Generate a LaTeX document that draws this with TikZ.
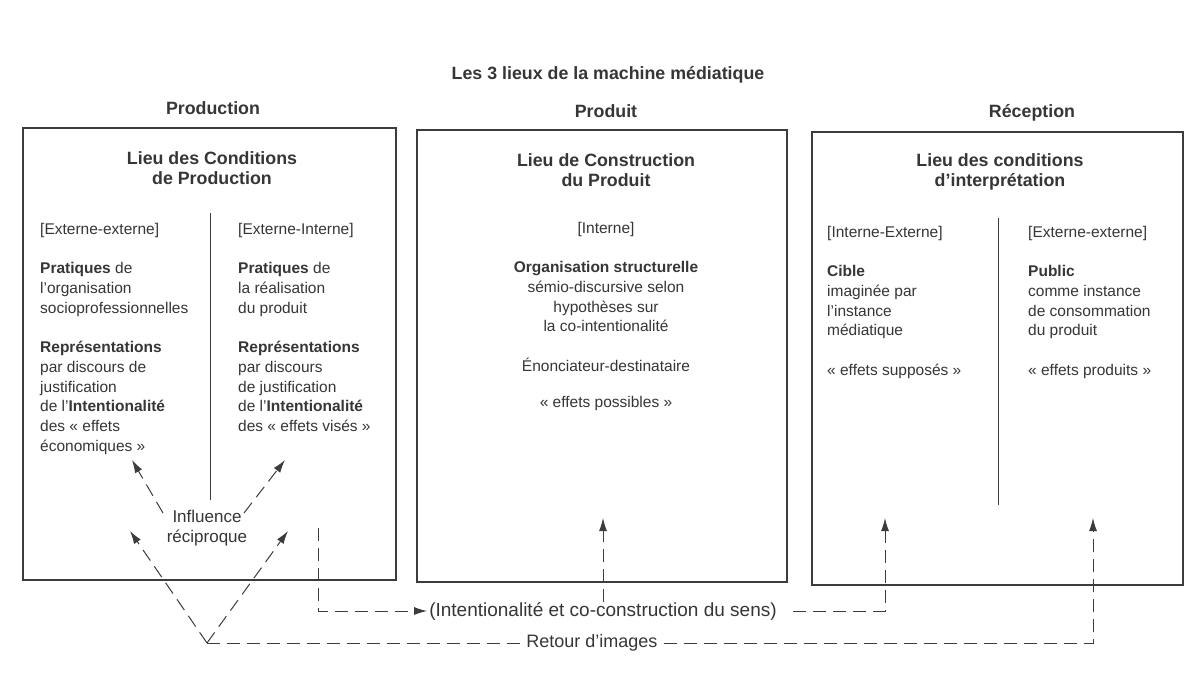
\documentclass[tikz,border=0pt]{standalone}
\usepackage{fontspec}
\setmainfont{Liberation Sans}
\usetikzlibrary{arrows.meta}
\definecolor{ink}{HTML}{363636}
\definecolor{lineink}{HTML}{3C3C3C}
\begin{document}
\begin{tikzpicture}[x=1pt,y=-1pt,
  box/.style={draw=lineink, line width=1.1pt, inner sep=0pt},
  head/.style={font=\fontsize{17.8}{20}\selectfont\bfseries, text=ink, align=center, inner sep=0pt},
  body/.style={font=\fontsize{15.5}{19.7}\selectfont, text=ink, align=left, inner sep=0pt, anchor=north west},
  bodyc/.style={body, align=center, anchor=north},
  lbl/.style={font=\fontsize{18}{20}\selectfont, text=ink, inner sep=0pt},
  dline/.style={draw=lineink, line width=1pt, dash pattern=on 13pt off 7pt},
  arr/.style={dline, -{Latex[length=13pt,width=8pt]}},
  divider/.style={draw=lineink, line width=1pt}]
\useasboundingbox (0,0) rectangle (1192,675);
\fill[white] (0,0) rectangle (1192,675);

% titles
\node[head] (title) at (608,75) {Les 3 lieux de la machine médiatique};
\node[head] (hprod) at (213,108) {Production};
\node[head] (hprd) at (606,111) {Produit};
\node[head] (hrec) at (1032,113) {Réception};

% boxes
\node[box, minimum width=373pt, minimum height=452pt] (B1) at (209.5,354) {};
\node[box, minimum width=370pt, minimum height=452pt] (B2) at (602,356) {};
\node[box, minimum width=371pt, minimum height=453pt] (B3) at (997.5,358.5) {};

% box titles
\node[head] (t1) at (212,168) {Lieu des Conditions\\de Production};
\node[head] (t2) at (606,170) {Lieu de Construction\\du Produit};
\node[head] (t3) at (1000,172) {Lieu des conditions\\d’interprétation};

% dividers
\draw[divider] (210,213) -- (210,500);
\draw[divider] (998,218) -- (998,505);

% left box columns
\node[body] (c1) at (40,223) {[Externe-externe]\\[19.7pt]\textbf{Pratiques} de\\l’organisation\\socioprofessionnelles\\[19.7pt]\textbf{Représentations}\\par discours de\\justification\\de l’\textbf{Intentionalité}\\des « effets\\économiques »};
\node[body] (c2) at (238,223) {[Externe-Interne]\\[19.7pt]\textbf{Pratiques} de\\la réalisation\\du produit\\[19.7pt]\textbf{Représentations}\\par discours\\de justification\\de l’\textbf{Intentionalité}\\des « effets visés »};

% middle box
\node[bodyc] (m1) at (606,222) {[Interne]\\[19.7pt]\textbf{Organisation structurelle}\\sémio-discursive selon\\hypothèses sur\\la co-intentionalité\\[19.7pt]Énonciateur-destinataire};
\node[bodyc] (m2) at (606,396) {« effets possibles »};

% right box columns
\node[body] (r1) at (827,226) {[Interne-Externe]\\[19.7pt]\textbf{Cible}\\imaginée par\\l’instance\\médiatique\\[19.7pt]« effets supposés »};
\node[body] (r2) at (1028,226) {[Externe-externe]\\[19.7pt]\textbf{Public}\\comme instance\\de consommation\\du produit\\[19.7pt]« effets produits »};

% influence
\node[lbl, align=center, font=\fontsize{17}{20}\selectfont] (infl) at (207,528) {Influence\\réciproque};
\coordinate (V) at (207,643);
\coordinate (a1) at (130,531);
\coordinate (a2) at (288,531);
\coordinate (u1s) at (163,513);
\coordinate (u1) at (132,460);
\coordinate (u2s) at (244,513);
\coordinate (u2) at (285,460);
\draw[arr] (V) -- (a1);
\draw[arr] (V) -- (a2);
\draw[arr] (u1s) -- (u1);
\draw[arr] (u2s) -- (u2);

% intentionalite
\node[lbl, font=\fontsize{19}{21}\selectfont, inner xsep=2pt] (intent) at (603,611) {(Intentionalité et co-construction du sens)};
\coordinate (ist) at (318,528);
\coordinate (mt) at (603,518);
\coordinate (rt1) at (885,518);
\draw[arr] (ist) |- (intent.west);
\draw[arr] (intent.north) -- (mt);
\draw[arr] ([xshift=14pt]intent.east) -| (rt1);

% retour d'images
\node[lbl, inner xsep=6pt] (ret) at (592,643) {Retour d’images};
\coordinate (rt2) at (1093,518);
\draw[dline] (V) -- (ret.west);
\draw[arr] (ret.east) -| (rt2);
\end{tikzpicture}
\end{document}
